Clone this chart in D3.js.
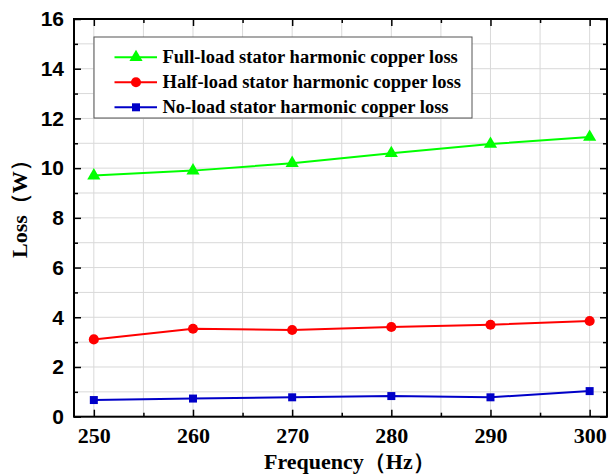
<!DOCTYPE html>
<html>
<head>
<meta charset="utf-8">
<script src="https://cdn.jsdelivr.net/npm/d3@7"></script>
<style>
  html, body { margin: 0; padding: 0; background: #fff; }
  svg { display: block; }
</style>
</head>
<body>
<svg id="chart" width="609" height="474"></svg>
<script>
// Stator harmonic copper loss versus frequency at three load levels
const frequencies = [250, 260, 270, 280, 290, 300];
const fullLoad = [9.7, 9.9, 10.2, 10.6, 10.97, 11.25];
const halfLoad = [3.11, 3.54, 3.49, 3.61, 3.70, 3.85];
const noLoad = [0.67, 0.73, 0.78, 0.83, 0.78, 1.03];
const seriesNames = [
  "Full-load stator harmonic copper loss",
  "Half-load stator harmonic copper loss",
  "No-load stator harmonic copper loss"
];
const xTicks = [250, 260, 270, 280, 290, 300];
const yTicks = [0, 2, 4, 6, 8, 10, 12, 14, 16];

const series = [
  { name: seriesNames[0], values: fullLoad, color: "#00ff00", symbol: d3.symbolTriangle, size: 75 },
  { name: seriesNames[1], values: halfLoad, color: "#ff0000", symbol: d3.symbolCircle, size: 80 },
  { name: seriesNames[2], values: noLoad, color: "#0000c8", symbol: d3.symbolSquare, size: 64 }
];

const svg = d3.select("#chart");
const plotLeft = 74, plotRight = 607, plotTop = 19, plotBottom = 416.7;

const x = d3.scaleLinear().domain([248, 301.75]).range([plotLeft, plotRight]);
const y = d3.scaleLinear().domain([0, 16]).range([plotBottom, plotTop]);

// grid lines at every 5 Hz and every 1 W
const xGrid = d3.range(250, 301, 5);
const yGrid = d3.range(1, 16, 1);
svg.append("g").selectAll("line").data(xGrid).join("line")
  .attr("x1", d => x(d)).attr("x2", d => x(d))
  .attr("y1", plotTop).attr("y2", plotBottom)
  .attr("stroke", "#d9d9d9").attr("stroke-width", 1);
svg.append("g").selectAll("line").data(yGrid).join("line")
  .attr("x1", plotLeft).attr("x2", plotRight)
  .attr("y1", d => y(d)).attr("y2", d => y(d))
  .attr("stroke", "#d9d9d9").attr("stroke-width", 1);

// axes with inward ticks on all four sides
const xMinor = d3.range(255, 301, 10);
const yMinor = d3.range(1, 16, 2);
function styleAxis(g) {
  g.select(".domain").remove();
  g.selectAll(".tick line").attr("stroke", "#000").attr("stroke-width", 1.5);
}
const bottomAxis = svg.append("g").attr("transform", `translate(0,${plotBottom})`)
  .call(d3.axisBottom(x).tickValues(xTicks).tickSize(-7).tickPadding(11).tickFormat(d3.format("d")));
styleAxis(bottomAxis);
bottomAxis.selectAll("text")
  .attr("font-family", "'Liberation Serif', 'Times New Roman', serif")
  .attr("font-weight", "bold").attr("font-size", 22).attr("fill", "#000");
svg.append("g").attr("transform", `translate(0,${plotBottom})`)
  .call(d3.axisBottom(x).tickValues(xMinor).tickSize(-4).tickFormat(""))
  .call(styleAxis);
svg.append("g").attr("transform", `translate(0,${plotTop})`)
  .call(d3.axisTop(x).tickValues(xTicks).tickSize(-7).tickFormat(""))
  .call(styleAxis);
svg.append("g").attr("transform", `translate(0,${plotTop})`)
  .call(d3.axisTop(x).tickValues(xMinor).tickSize(-4).tickFormat(""))
  .call(styleAxis);

const leftAxis = svg.append("g").attr("transform", `translate(${plotLeft},0)`)
  .call(d3.axisLeft(y).tickValues(yTicks).tickSize(-7).tickPadding(10));
styleAxis(leftAxis);
leftAxis.selectAll("text")
  .attr("font-family", "'Liberation Sans', Arial, sans-serif")
  .attr("font-weight", "bold").attr("font-size", 21).attr("fill", "#000");
svg.append("g").attr("transform", `translate(${plotLeft},0)`)
  .call(d3.axisLeft(y).tickValues(yMinor).tickSize(-4).tickFormat(""))
  .call(styleAxis);
svg.append("g").attr("transform", `translate(${plotRight},0)`)
  .call(d3.axisRight(y).tickValues(yTicks).tickSize(-7).tickFormat(""))
  .call(styleAxis);
svg.append("g").attr("transform", `translate(${plotRight},0)`)
  .call(d3.axisRight(y).tickValues(yMinor).tickSize(-4).tickFormat(""))
  .call(styleAxis);

// frame
svg.append("rect")
  .attr("x", plotLeft).attr("y", plotTop)
  .attr("width", plotRight - plotLeft).attr("height", plotBottom - plotTop)
  .attr("fill", "none").attr("stroke", "#000").attr("stroke-width", 2);

// axis titles
svg.append("text")
  .attr("x", 264).attr("y", 469)
  .attr("font-family", "'Liberation Serif', 'Times New Roman', serif")
  .attr("font-weight", "bold").attr("font-size", 22).attr("fill", "#000")
  .text("Frequency（Hz）");
svg.append("text")
  .attr("transform", "translate(27,258) rotate(-90)")
  .attr("font-family", "'Liberation Serif', 'Times New Roman', serif")
  .attr("font-weight", "bold").attr("font-size", 22).attr("fill", "#000")
  .text("Loss（W）");

// series lines and markers
const line = d3.line().x((d, i) => x(frequencies[i])).y(d => y(d));
series.forEach(s => {
  svg.append("path").datum(s.values)
    .attr("d", line).attr("fill", "none")
    .attr("stroke", s.color).attr("stroke-width", 2);
  svg.append("g").selectAll("path").data(s.values).join("path")
    .attr("transform", (d, i) => `translate(${x(frequencies[i])},${y(d)})`)
    .attr("d", d3.symbol().type(s.symbol).size(s.size))
    .attr("fill", s.color);
});

// legend
const legend = svg.append("g");
legend.append("rect")
  .attr("x", 94).attr("y", 37).attr("width", 378).attr("height", 81)
  .attr("fill", "#fff").attr("stroke", "#555").attr("stroke-width", 1);
series.forEach((s, i) => {
  const cy = 57.3 + i * 25;
  legend.append("line")
    .attr("x1", 114.5).attr("x2", 157).attr("y1", cy).attr("y2", cy)
    .attr("stroke", s.color).attr("stroke-width", 2);
  legend.append("path")
    .attr("transform", `translate(136,${cy})`)
    .attr("d", d3.symbol().type(s.symbol).size(s.size))
    .attr("fill", s.color);
  legend.append("text")
    .attr("x", 162.5).attr("y", cy + 5.5)
    .attr("font-family", "'Liberation Serif', 'Times New Roman', serif")
    .attr("font-weight", "bold").attr("font-size", 18.5).attr("fill", "#000")
    .text(s.name);
});
</script>
</body>
</html>
